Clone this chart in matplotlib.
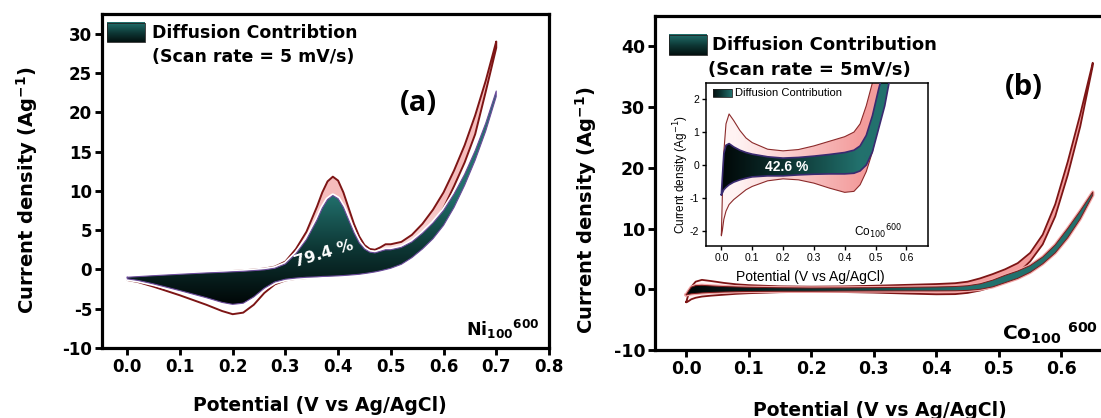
import matplotlib
matplotlib.use('Agg')
import matplotlib.pyplot as plt
import numpy as np
from matplotlib.patches import Polygon, Rectangle
from matplotlib.colors import LinearSegmentedColormap

plt.rcParams['font.family'] = ['DejaVu Sans']
plt.rcParams['axes.unicode_minus'] = False

# ---- panel (a): Ni100 600, potential (V) and current density (A/g)
ni_v = [0.0, 0.02, 0.05, 0.1, 0.15, 0.18, 0.2, 0.22, 0.24, 0.26, 0.28, 0.3,
        0.32, 0.34, 0.36, 0.37, 0.38, 0.39, 0.4, 0.41, 0.42, 0.43, 0.44, 0.45,
        0.46, 0.47, 0.48, 0.49, 0.5, 0.52, 0.54, 0.56, 0.58, 0.6, 0.62, 0.64,
        0.66, 0.68, 0.7]
ni_total_anodic = [-1.0, -0.9, -0.75, -0.55, -0.38, -0.28, -0.2, -0.12, -0.02, 0.1,
                   0.35, 1.0, 2.6, 4.8, 8.0, 9.8, 11.2, 11.8, 11.3, 9.8, 7.8, 5.8,
                   4.2, 3.1, 2.6, 2.5, 2.8, 3.2, 3.2, 3.5, 4.4, 5.8, 7.6, 9.8,
                   12.6, 15.8, 19.6, 24.0, 29.0]
ni_total_cathodic = [-1.35, -1.6, -2.2, -3.3, -4.5, -5.3, -5.7, -5.5, -4.5, -3.0,
                     -1.9, -1.4, -1.2, -1.1, -1.0, -0.95, -0.9, -0.88, -0.85, -0.8,
                     -0.75, -0.7, -0.65, -0.55, -0.45, -0.35, -0.2, -0.05, 0.2, 0.9,
                     2.1, 3.6, 5.4, 7.8, 10.6, 13.6, 17.2, 22.6, 28.2]
ni_diff_anodic = [-1.0, -0.92, -0.8, -0.62, -0.45, -0.37, -0.3, -0.24, -0.15, -0.05,
                  0.15, 0.7, 2.0, 3.8, 6.3, 7.8, 8.9, 9.4, 9.0, 7.9, 6.3, 4.7,
                  3.4, 2.6, 2.2, 2.1, 2.3, 2.5, 2.5, 2.8, 3.5, 4.6, 5.9, 7.5,
                  9.6, 12.1, 15.1, 18.6, 22.7]
ni_diff_cathodic = [-1.2, -1.4, -1.85, -2.7, -3.6, -4.2, -4.45, -4.3, -3.5, -2.4,
                    -1.6, -1.25, -1.1, -1.0, -0.95, -0.9, -0.88, -0.85, -0.82, -0.78,
                    -0.73, -0.68, -0.62, -0.53, -0.43, -0.32, -0.18, -0.02, 0.15, 0.65,
                    1.5, 2.6, 3.9, 5.6, 7.9, 10.7, 13.9, 17.6, 22.0]

# ---- panel (b): Co100 600
co_v = [0.0, 0.003, 0.008, 0.015, 0.025, 0.04, 0.06, 0.08, 0.1, 0.15, 0.2, 0.25,
        0.3, 0.35, 0.4, 0.43, 0.45, 0.47, 0.49, 0.51, 0.53, 0.55, 0.57, 0.59,
        0.61, 0.63, 0.65]
co_total_anodic = [-2.1, -1.0, 0.4, 1.25, 1.55, 1.35, 1.05, 0.82, 0.68, 0.48, 0.43,
                   0.47, 0.58, 0.72, 0.86, 1.0, 1.25, 1.8, 2.5, 3.3, 4.3, 6.0, 9.0,
                   14.0, 21.0, 28.8, 37.3]
co_total_cathodic = [-2.15, -2.0, -1.65, -1.4, -1.2, -1.05, -0.9, -0.75, -0.65, -0.48,
                     -0.42, -0.45, -0.55, -0.7, -0.83, -0.8, -0.6, -0.2, 0.4, 1.3,
                     2.6, 4.6, 7.4, 12.0, 18.8, 26.8, 36.8]
co_diff_anodic = [-0.9, -0.4, 0.35, 0.6, 0.65, 0.55, 0.45, 0.38, 0.33, 0.25, 0.21,
                  0.23, 0.27, 0.32, 0.38, 0.45, 0.58, 0.9, 1.5, 2.3, 3.0, 3.9, 5.3,
                  7.3, 10.0, 12.9, 16.0]
co_diff_cathodic = [-0.9, -0.85, -0.75, -0.68, -0.6, -0.52, -0.45, -0.4, -0.36, -0.33,
                    -0.33, -0.3, -0.28, -0.27, -0.27, -0.25, -0.18, 0.0, 0.4, 1.1,
                    1.8, 2.8, 4.2, 6.0, 8.5, 11.6, 15.5]

teal_cmap = LinearSegmentedColormap.from_list('teal', ['#010707', '#0d3634', '#22716d'])


def loop(v, up, dn):
    v = np.asarray(v)
    return np.concatenate([v, v[::-1]]), np.concatenate([up, np.asarray(dn)[::-1]])


def gradient_fill(ax, v, i, cmap, lo, hi, along, zorder):
    poly = Polygon(np.column_stack([v, i]), closed=True, fc='none', ec='none')
    ax.add_patch(poly)
    x0, x1, y0, y1 = v.min(), v.max(), i.min(), i.max()
    if along == 'y':
        t = np.linspace(y0, y1, 400)
        z = np.clip((t - lo) / (hi - lo), 0, 1)[:, None]
    else:
        t = np.linspace(x0, x1, 400)
        z = np.clip((t - lo) / (hi - lo), 0, 1)[None, :]
    im = ax.imshow(z, extent=[x0, x1, y0, y1], origin='lower', aspect='auto',
                   cmap=cmap, vmin=0, vmax=1, interpolation='bilinear', zorder=zorder)
    im.set_clip_path(poly)


def outline(ax, v, i, **kw):
    ax.plot(np.r_[v, v[0]], np.r_[i, i[0]], solid_joinstyle='round', **kw)


def legend_patch(ax, box, horizontal):
    x0, x1, y0, y1 = box
    z = np.linspace(0.1, 1, 100)
    z = z[None, :] if horizontal else z[:, None]
    ax.imshow(z, extent=box, transform=ax.transAxes, origin='lower', aspect='auto',
              cmap=teal_cmap, vmin=0, vmax=1, zorder=6)
    ax.add_patch(Rectangle((x0, y0), x1 - x0, y1 - y0, transform=ax.transAxes,
                           fill=False, ec='#222222', lw=0.6, zorder=7))


def style(ax, lw, size, length, bold=True):
    for s in ax.spines.values():
        s.set_linewidth(lw)
    ax.tick_params(direction='out', length=length, width=lw * 0.9, labelsize=size,
                   pad=2, top=False, right=False)
    if bold:
        for lab in ax.get_xticklabels() + ax.get_yticklabels():
            lab.set_fontweight('bold')


fig = plt.figure(figsize=(11.01, 4.18), dpi=100)

# ================= panel (a)
ax1 = fig.add_axes([0.0926, 0.1675, 0.406, 0.799])
ax1.set_xlim(-0.048, 0.8)
ax1.set_ylim(-10, 32.5)
ax1.set_xticks(np.arange(0, 0.81, 0.1))
ax1.set_yticks(np.arange(-10, 31, 5))

tv, ti = loop(ni_v, ni_total_anodic, ni_total_cathodic)
dv, di = loop(ni_v, ni_diff_anodic, ni_diff_cathodic)
pink_a = LinearSegmentedColormap.from_list('pa', ['#ffffff', '#f6bcbc'])
gradient_fill(ax1, tv, ti, pink_a, -3, 9, 'y', 1)
outline(ax1, tv, ti, color='#7d1515', lw=1.4, zorder=1.5)
outline(ax1, dv, di, color='white', lw=3.2, zorder=2)
gradient_fill(ax1, dv, di, teal_cmap, -4.5, 9.5, 'y', 2.5)
outline(ax1, dv, di, color='#6b4a9a', lw=0.8, zorder=3)

ax1.text(0.374, 2.0, '79.4 %', color='white', fontsize=11.5, fontweight='bold',
         rotation=17, ha='center', va='center', zorder=5)
legend_patch(ax1, [0.011, 0.096, 0.916, 0.973], False)
ax1.text(0.112, 0.943, 'Diffusion Contribtion', transform=ax1.transAxes,
         fontsize=12.5, fontweight='bold', va='center')
ax1.text(0.112, 0.871, '(Scan rate = 5 mV/s)', transform=ax1.transAxes,
         fontsize=12.5, fontweight='bold', va='center')
ax1.text(0.709, 0.733, '(a)', transform=ax1.transAxes, fontsize=21,
         fontweight='bold', family=['Open Sans', 'DejaVu Sans'], ha='center', va='center')
ax1.text(0.978, 0.054, r'$\mathbf{Ni_{100}}$$\mathbf{^{600}}$', transform=ax1.transAxes,
         fontsize=12.5, ha='right', va='center')
ax1.set_ylabel(r'Current density (Ag$\mathbf{^{-1}}$)', fontsize=14,
               fontweight='bold', va='center')
ax1.yaxis.set_label_coords(-0.168, 0.473)
ax1.set_xlabel('Potential (V vs Ag/AgCl)', fontsize=13.5, fontweight='bold', va='center')
ax1.xaxis.set_label_coords(0.488, -0.171)
style(ax1, 2.3, 12, 5)

# ================= panel (b)
ax2 = fig.add_axes([0.5949, 0.1627, 0.426, 0.799])
ax2.set_xlim(-0.05, 0.7)
ax2.set_ylim(-10, 45)
ax2.set_xticks(np.arange(0, 0.61, 0.1))
ax2.set_yticks(np.arange(-10, 41, 10))

tv, ti = loop(co_v, co_total_anodic, co_total_cathodic)
dv, di = loop(co_v, co_diff_anodic, co_diff_cathodic)
pink_b = LinearSegmentedColormap.from_list('pb', ['#fff3f3', '#f39c9c'])
gradient_fill(ax2, tv, ti, pink_b, 0.05, 0.45, 'x', 1)
outline(ax2, tv, ti, color='#7d1515', lw=1.3, zorder=1.5)
outline(ax2, dv, di, color='#f2a7a7', lw=2.4, zorder=2)
gradient_fill(ax2, dv, di, teal_cmap, 0.0, 0.45, 'x', 2.5)
outline(ax2, dv, di, color='#7a1a1a', lw=0.7, zorder=3)

legend_patch(ax2, [0.030, 0.111, 0.883, 0.943], False)
ax2.text(0.1215, 0.913, 'Diffusion Contribution', transform=ax2.transAxes,
         fontsize=13, fontweight='bold', va='center')
ax2.text(0.330, 0.838, '(Scan rate = 5mV/s)', transform=ax2.transAxes,
         fontsize=13, fontweight='bold', ha='center', va='center')
ax2.text(0.787, 0.787, '(b)', transform=ax2.transAxes, fontsize=21,
         fontweight='bold', family=['Open Sans', 'DejaVu Sans'], ha='center', va='center')
ax2.text(0.9446, 0.051, r'$\mathbf{Co_{100}}$ $\mathbf{^{600}}$', transform=ax2.transAxes,
         fontsize=14.5, ha='right', va='center')
ax2.set_ylabel(r'Current density (Ag$\mathbf{^{-1}}$)', fontsize=14,
               fontweight='bold', va='center')
ax2.yaxis.set_label_coords(-0.147, 0.419)
ax2.set_xlabel('Potential (V vs Ag/AgCl)', fontsize=13.5, fontweight='bold', va='center')
ax2.xaxis.set_label_coords(0.480, -0.180)
style(ax2, 2.3, 12.5, 5)

# ---- inset of panel (b)
narrow = ['Liberation Sans Narrow', 'Liberation Sans', 'DejaVu Sans']
ax3 = fig.add_axes([0.6412, 0.4122, 0.2016, 0.39])
ax3.set_xlim(-0.05, 0.67)
ax3.set_ylim(-2.45, 2.5)
ax3.set_xticks(np.arange(0, 0.61, 0.1))
ax3.set_yticks(np.arange(-2, 2.1, 1))
gradient_fill(ax3, tv, ti, pink_b, 0.05, 0.45, 'x', 1)
outline(ax3, tv, ti, color='#8b2a2a', lw=0.8, zorder=1.5)
gradient_fill(ax3, dv, di, teal_cmap, 0.0, 0.45, 'x', 2.5)
outline(ax3, dv, di, color='#3a2a70', lw=1.2, zorder=3)
ax3.text(0.213, -0.05, '42.6 %', color='white', fontsize=10, fontweight='bold',
         family=['Liberation Sans'], ha='center', va='center', zorder=5)
legend_patch(ax3, [0.032, 0.117, 0.914, 0.961], True)
ax3.text(0.131, 0.937, 'Diffusion Contribution', transform=ax3.transAxes,
         fontsize=8, family=narrow, va='center')
ax3.text(0.887, 0.084, r'Co$_{100}$$^{600}$', transform=ax3.transAxes,
         fontsize=8.5, family=narrow, ha='right', va='center')
ax3.set_ylabel(r'Current density (Ag$^{-1}$)', fontsize=8.5, family=narrow, va='center')
ax3.yaxis.set_label_coords(-0.113, 0.434)
ax3.set_xlabel('Potential (V vs Ag/AgCl)', fontsize=10, family=['Liberation Sans'],
               va='center')
ax3.xaxis.set_label_coords(0.468, -0.192)
style(ax3, 1.1, 7.5, 3, bold=False)
for lab in ax3.get_xticklabels() + ax3.get_yticklabels():
    lab.set_family(narrow)

plt.savefig('out.png', dpi=100)
